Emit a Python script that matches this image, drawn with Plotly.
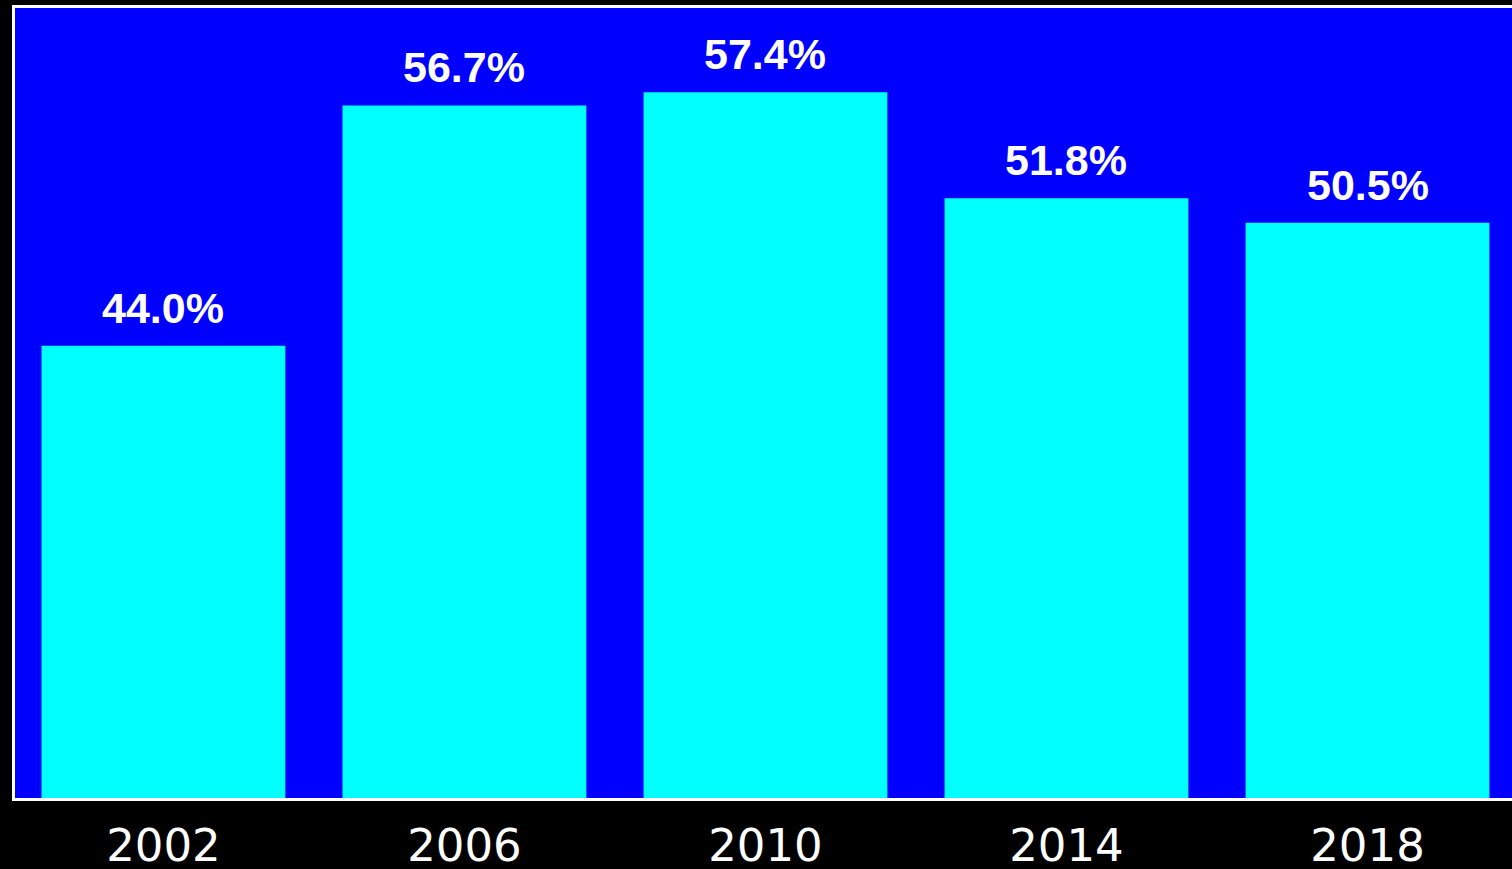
import plotly.graph_objects as go

# Survey years and share per year (percent)
years = ["2002", "2006", "2010", "2014", "2018"]
shares = [44.0, 56.7, 57.4, 51.8, 50.5]
positions = list(range(len(years)))

BLUE = "#0000FF"
CYAN = "#00FFFF"
WHITE = "#FFFFFF"

fig = go.Figure(
    go.Bar(
        x=positions,
        y=shares,
        width=0.81,
        marker=dict(color=CYAN, line=dict(width=0)),
        hoverinfo="skip",
    )
)

# Value labels above each bar
for xi, v in zip(positions, shares):
    fig.add_annotation(
        x=xi, y=v, text=f"{v:.1f}%",
        showarrow=False, yanchor="middle", yshift=38,
        font=dict(family="Liberation Sans", size=43, color=WHITE, weight="bold"),
    )

fig.update_layout(
    width=1512, height=869,
    margin=dict(l=15, r=0, t=8, b=71),
    paper_bgcolor="#000000",
    plot_bgcolor=BLUE,
    showlegend=False,
    font=dict(family="Liberation Sans", color=WHITE),
)

fig.update_xaxes(
    range=[-0.493, 4.48],
    tickvals=positions, ticktext=years,
    ticks="", ticklabelstandoff=6, automargin=False,
    tickfont=dict(family="DejaVu Sans", size=45, color=WHITE),
    showgrid=False, zeroline=False,
    showline=True, linecolor=WHITE, linewidth=3, mirror=True,
)
fig.update_yaxes(
    range=[20.1, 61.85], automargin=False,
    showticklabels=False, ticks="",
    showgrid=False, zeroline=False,
    showline=True, linecolor=WHITE, linewidth=3,
)

fig.write_html("out.html")
